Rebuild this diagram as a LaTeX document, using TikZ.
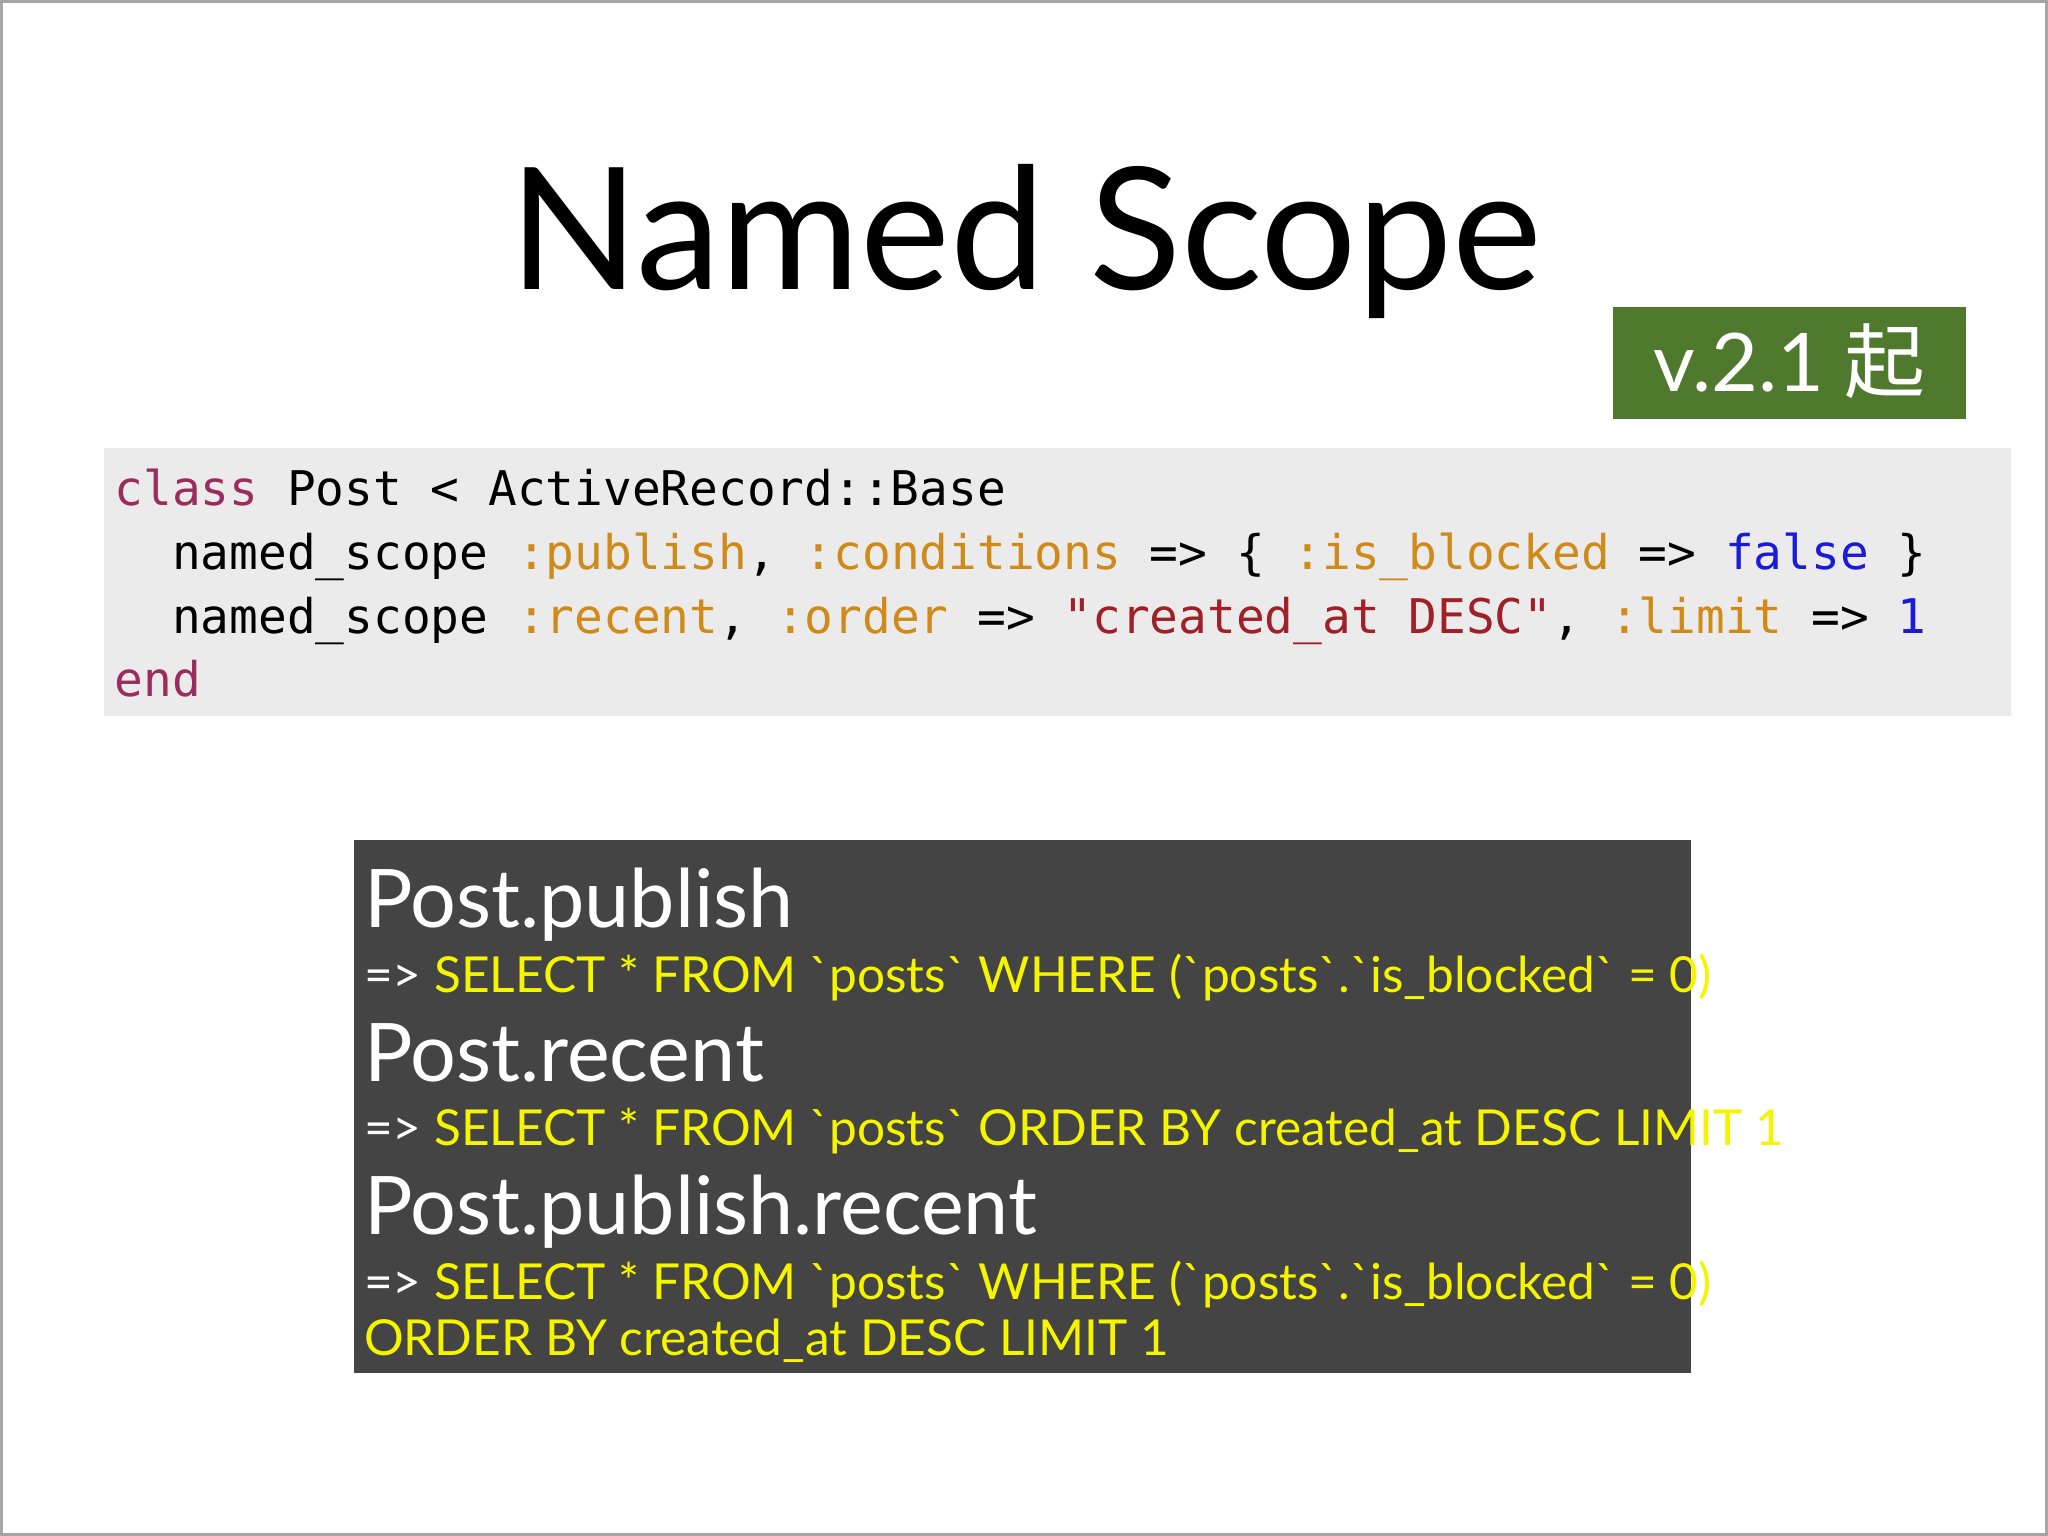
\documentclass[tikz,border=0pt]{standalone}
\usepackage{fontspec}
\newfontfamily\gill{Lato}
\newfontfamily\mono{DejaVu Sans Mono}
\newfontfamily\cjk{Noto Sans CJK SC}
\definecolor{kw}{HTML}{9B2D5E}
\definecolor{sym}{HTML}{D08A1A}
\definecolor{str}{HTML}{A0202A}
\definecolor{blu}{HTML}{1A1AD8}
\definecolor{codebg}{HTML}{EBEBEB}
\definecolor{dark}{HTML}{444444}
\definecolor{badge}{HTML}{4F7A2E}
\definecolor{yel}{HTML}{F5F500}
\tikzset{
  txt/.style={anchor=base west,inner sep=0pt},
  code/.style={txt,font=\mono\fontsize{10.4}{12}\selectfont},
  big/.style={txt,text=white,font=\gill\fontsize{17.6}{20}\selectfont},
  sql/.style={txt,text=yel,font=\gill\fontsize{10.8}{13}\selectfont},
}
\begin{document}
\begin{tikzpicture}[x=0.01cm,y=-0.01cm]
\useasboundingbox (0,0) rectangle (1568,1176);
\draw[gray!70,line width=0.6pt] (1,1) rectangle (1567,1175);
\node[anchor=base,inner sep=0pt,font=\gill\fontsize{37}{40}\selectfont] (title) at (785,222) {Named Scope};
\fill[badge] (1235,235) rectangle (1505,321);
\node[anchor=base,inner sep=0pt,text=white,font=\gill\fontsize{17.6}{20}\selectfont] (ver) at (1370,300) {v.2.1 {\cjk 起}};
\fill[codebg] (80,343) rectangle (1540,548);
\node[code] (c1) at (87,387) {\textcolor{kw}{class} Post < ActiveRecord::Base};
\node[code] (c2) at (87,436) {\ \ named\_scope \textcolor{sym}{:publish}, \textcolor{sym}{:conditions} => \{ \textcolor{sym}{:is\_blocked} => \textcolor{blu}{false} \}};
\node[code] (c3) at (87,485) {\ \ named\_scope \textcolor{sym}{:recent}, \textcolor{sym}{:order} => \textcolor{str}{"created\_at DESC"}, \textcolor{sym}{:limit} => \textcolor{blu}{1}};
\node[code] (c4) at (87,533) {\textcolor{kw}{end}};
\fill[dark] (271,643) rectangle (1295,1051);
\node[big] (p1) at (278,710) {Post.publish};
\node[sql] (s1) at (278,760) {\textcolor{white}{=>} SELECT * FROM `posts` WHERE (`posts`.`is\_blocked` = 0)};
\node[big] (p2) at (278,828) {Post.recent};
\node[sql] (s2) at (278,877) {\textcolor{white}{=>} SELECT * FROM `posts` ORDER BY created\_at DESC LIMIT 1};
\node[big] (p3) at (278,945) {Post.publish.recent};
\node[sql] (s3) at (278,995) {\textcolor{white}{=>} SELECT * FROM `posts` WHERE (`posts`.`is\_blocked` = 0)};
\node[sql] (s4) at (278,1038) {ORDER BY created\_at DESC LIMIT 1};
\end{tikzpicture}
\end{document}
